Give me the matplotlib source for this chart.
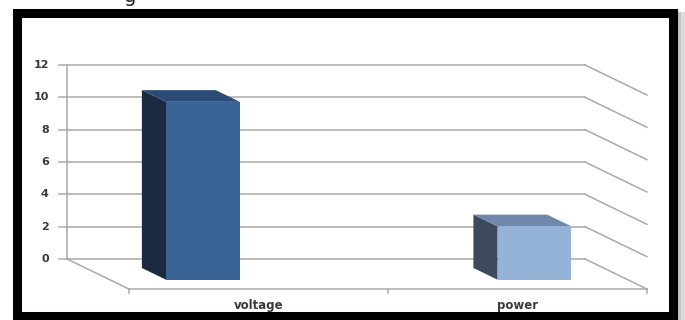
import matplotlib
matplotlib.use('Agg')
import matplotlib.pyplot as plt
from matplotlib.patches import Polygon, Rectangle

# data
categories = ['voltage', 'power']
values = [11, 3.3]
y_ticks = [0, 2, 4, 6, 8, 10, 12]

# colours per bar: front, side, top
front_colors = ['#3a6395', '#95b3d7']
side_colors = ['#1b2a40', '#3d4a5c']
top_colors = ['#2c4b76', '#6f87ab']

grid_color = '#a9a9a9'
text_color = '#3a3a3a'

# fake 3d projection (depth offset in data units)
DX = 0.239
DY = -1.855
D_BACK, D_FRONT = 0.30, 0.69
BAR_W = 0.285
SPREAD = 1.28   # bars pushed outwards like in the excel picture


def proj(x, v, d):
    return (x + d * DX, v + d * DY)


def main():
    fig = plt.figure(figsize=(6.85, 3.2), dpi=100)
    ax = fig.add_axes([0, 0, 1, 1])
    ax.set_xlim(-196.5 / 259, (685 - 196.5) / 259)
    ax.set_ylim((259 - 320) / 16.17, 259 / 16.17)
    ax.axis('off')

    n = len(categories)
    x0, x1 = -0.5, n - 0.5
    vmax = max(y_ticks)

    # back wall gridlines + right side wall
    for t in y_ticks:
        ax.plot([x0, x1], [t, t], color=grid_color, lw=1.1, zorder=1)
        ax.plot([x1, x1 + DX], [t, t + DY], color=grid_color, lw=1.1, zorder=1)
        ax.plot([x0 - 0.03, x0], [t, t], color=grid_color, lw=1.1, zorder=1)
        ax.text(x0 - 0.07, t, str(t), ha='right', va='center',
                fontsize=8, fontweight='bold', color=text_color)

    # left wall edge and floor
    ax.plot([x0, x0], [0, vmax], color=grid_color, lw=1.1, zorder=1)
    ax.plot([x0, x0 + DX], [0, DY], color=grid_color, lw=1.1, zorder=1)
    ax.plot([x0 + DX, x1 + DX], [DY, DY], color=grid_color, lw=1.1, zorder=1)
    for i in range(n + 1):
        xb = x0 + i + DX
        ax.plot([xb, xb], [DY, DY - 0.25], color=grid_color, lw=1.1, zorder=1)

    # category labels
    for i, name in enumerate(categories):
        ax.text(i + DX, DY - 1.0, name, ha='center', va='center',
                fontsize=8.5, fontweight='bold', color=text_color)

    # bars
    center = (n - 1) / 2
    for i, v in enumerate(values):
        c = center + (i - center) * SPREAD
        left, right = c - BAR_W / 2, c + BAR_W / 2
        side = [proj(left, 0, D_BACK), proj(left, v, D_BACK),
                proj(left, v, D_FRONT), proj(left, 0, D_FRONT)]
        top = [proj(left, v, D_BACK), proj(right, v, D_BACK),
               proj(right, v, D_FRONT), proj(left, v, D_FRONT)]
        front = [proj(left, 0, D_FRONT), proj(right, 0, D_FRONT),
                 proj(right, v, D_FRONT), proj(left, v, D_FRONT)]
        ax.add_patch(Polygon(side, closed=True, fc=side_colors[i], ec='none', zorder=3))
        ax.add_patch(Polygon(top, closed=True, fc=top_colors[i], ec='none', zorder=3))
        ax.add_patch(Polygon(front, closed=True, fc=front_colors[i], ec='none', zorder=4))

    # cut off caption above the frame (only the descender shows)
    fig.text(130 / 685, 1 - 2.5 / 320, 'g', fontsize=14, color='#222222',
             ha='center', va='baseline')

    # black frame with a bit of shadow on the right
    W, H = 685.0, 320.0
    fig.add_artist(Rectangle((678 / W, 0), 7 / W, 1 - 12 / H,
                             transform=fig.transFigure, fc='#c4c4c4', ec='none'))
    fig.add_artist(Rectangle((681 / W, 0), 4 / W, 1 - 12 / H,
                             transform=fig.transFigure, fc='#dcdcdc', ec='none'))
    fig.add_artist(Rectangle((16.5 / W, 1 - 316 / H), (673 - 16.5) / W, (316 - 12.5) / H,
                             transform=fig.transFigure, fill=False,
                             ec='black', lw=6.5))

    fig.savefig('out.png', dpi=100)


if __name__ == '__main__':
    main()
